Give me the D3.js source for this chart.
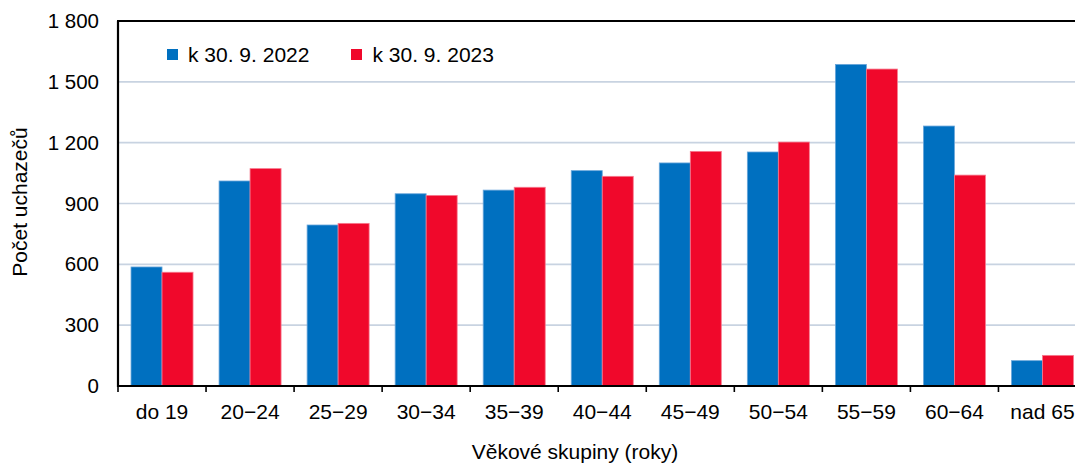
<!DOCTYPE html>
<html>
<head>
<meta charset="utf-8">
<script src="https://cdn.jsdelivr.net/npm/d3@7"></script>
<style>
  html, body { margin: 0; padding: 0; background: #fff; }
  svg { display: block; font-family: "Liberation Sans", Arial, sans-serif; }
</style>
</head>
<body>
<svg id="chart" width="1075" height="464"></svg>
<script>
const categories = ["do 19", "20\u221224", "25\u221229", "30\u221234", "35\u221239", "40\u221244", "45\u221249", "50\u221254", "55\u221259", "60\u221264", "nad 65"];
const seriesNames = ["k 30. 9. 2022", "k 30. 9. 2023"];
const values2022 = [587, 1011, 794, 948, 966, 1062, 1100, 1154, 1586, 1282, 125];
const values2023 = [561, 1072, 802, 940, 980, 1034, 1157, 1203, 1563, 1040, 151];
const yTicks = [0, 300, 600, 900, 1200, 1500, 1800];
const yTitle = "Počet uchazečů";
const xTitle = "Věkové skupiny (roky)";

(function () {
const colors = ["#0070c0", "#f0082b"];
const strokes = ["#6aa6da", "#f77a8e"];

const svg = d3.select("#chart");
const pLeft = 118, pRight = 1086.5, pTop = 21, pBottom = 386;

const x = d3.scaleBand().domain(categories).range([pLeft, pRight]).padding(0);
const x1 = d3.scaleBand().domain(seriesNames).range([0, x.bandwidth()]).paddingInner(0).paddingOuter(0.42);
const y = d3.scaleLinear().domain([0, 1800]).range([pBottom, pTop]);

const fmt = v => d3.format(",")(v).replace(/,/g, "\u00a0");

// gridlines
svg.append("g").selectAll("line").data(yTicks.filter(t => t > 0 && t < 1800)).join("line")
  .attr("x1", pLeft).attr("x2", 1075)
  .attr("y1", d => y(d)).attr("y2", d => y(d))
  .attr("stroke", "#c8d3e1").attr("stroke-width", 1.6);

// bars
const data = categories.map((c, i) => ({ c, vals: [values2022[i], values2023[i]] }));
const g = svg.append("g");
data.forEach(d => {
  d.vals.forEach((v, k) => {
    g.append("rect")
      .attr("x", x(d.c) + x1(seriesNames[k]))
      .attr("y", y(v))
      .attr("width", x1.bandwidth())
      .attr("height", y(0) - y(v))
      .attr("fill", colors[k])
      .attr("stroke", strokes[k])
      .attr("stroke-width", 0.8);
  });
});

// y axis labels
const yAxis = d3.axisLeft(y).tickValues(yTicks).tickSize(0).tickPadding(19).tickFormat(fmt);
const yg = svg.append("g").attr("transform", `translate(${pLeft},0)`).call(yAxis);
yg.select(".domain").remove();
yg.selectAll("text").attr("font-size", 20.5).attr("fill", "#000").attr("font-family", "Liberation Sans, Arial, sans-serif");

// x axis labels
const xAxis = d3.axisBottom(x).tickSize(0).tickPadding(18);
const xg = svg.append("g").attr("transform", `translate(0,${pBottom})`).call(xAxis);
xg.select(".domain").remove();
xg.selectAll("text").attr("font-size", 21).attr("fill", "#000").attr("font-family", "Liberation Sans, Arial, sans-serif");

// x tick marks at category boundaries
const bounds = categories.map(c => x(c)).concat([x.range()[1]]);
svg.append("g").selectAll("line").data(bounds).join("line")
  .attr("x1", d => d).attr("x2", d => d)
  .attr("y1", pBottom).attr("y2", pBottom + 6)
  .attr("stroke", "#000").attr("stroke-width", 1.6);

// frame lines
svg.append("line").attr("x1", pLeft).attr("x2", 1075).attr("y1", pBottom).attr("y2", pBottom)
  .attr("stroke", "#000").attr("stroke-width", 2.2);
svg.append("line").attr("x1", pLeft).attr("x2", pLeft).attr("y1", pTop).attr("y2", pBottom + 1)
  .attr("stroke", "#000").attr("stroke-width", 2.2);
svg.append("line").attr("x1", pLeft - 1).attr("x2", 1075).attr("y1", pTop).attr("y2", pTop)
  .attr("stroke", "#000").attr("stroke-width", 2.2);

// legend
const legendPos = [{ sx: 167, tx: 188 }, { sx: 351, tx: 372.5 }];
seriesNames.forEach((s, k) => {
  svg.append("rect").attr("x", legendPos[k].sx).attr("y", 49).attr("width", 11).attr("height", 11).attr("fill", colors[k]);
  svg.append("text").attr("x", legendPos[k].tx).attr("y", 61.5).attr("font-size", 21).attr("fill", "#000").text(s);
});

// titles
svg.append("text").attr("x", 575).attr("y", 459).attr("text-anchor", "middle").attr("font-size", 21).attr("fill", "#000").text(xTitle);
svg.append("text").attr("transform", "translate(27,202) rotate(-90)").attr("text-anchor", "middle").attr("font-size", 21).attr("fill", "#000").text(yTitle);
})();
</script>
</body>
</html>
